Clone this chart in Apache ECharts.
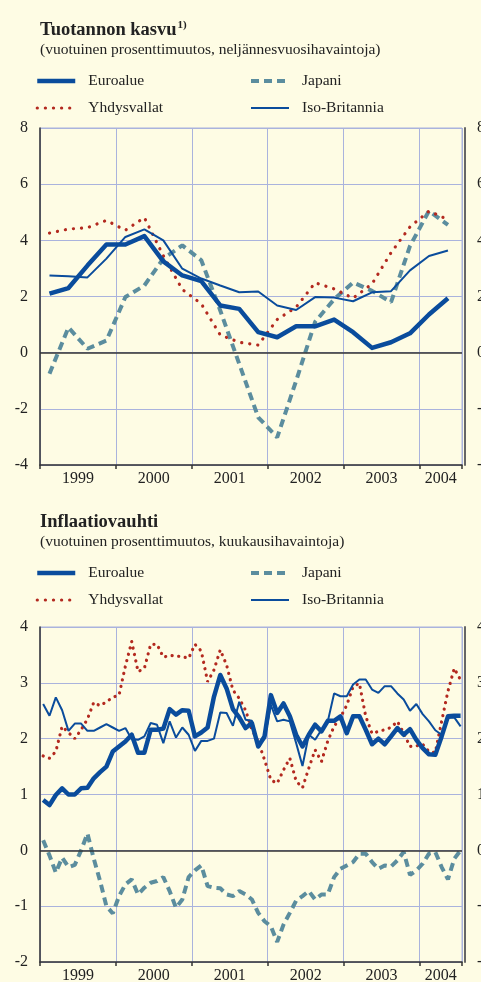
<!DOCTYPE html>
<html><head><meta charset="utf-8">
<script src="https://cdn.jsdelivr.net/npm/echarts@6/dist/echarts.min.js"></script>
<style>html,body{margin:0;padding:0;background:#fefce4}#c{width:481px;height:982px}</style>
</head><body><div id="c"></div>
<script>
// ---- Tuotannon kasvu (quarterly) ----
const quarters = ['1999Q1','1999Q2','1999Q3','1999Q4','2000Q1','2000Q2','2000Q3','2000Q4',
  '2001Q1','2001Q2','2001Q3','2001Q4','2002Q1','2002Q2','2002Q3','2002Q4',
  '2003Q1','2003Q2','2003Q3','2003Q4','2004Q1','2004Q2'];
const gdpEuro  = [2.1, 2.3, 3.1, 3.85, 3.85, 4.15, 3.25, 2.75, 2.55, 1.68, 1.56, 0.73, 0.55, 0.94, 0.94, 1.18, 0.73, 0.17, 0.37, 0.69, 1.36, 1.94];
const gdpUS    = [4.26, 4.4, 4.45, 4.71, 4.36, 4.81, 3.45, 2.25, 1.74, 0.63, 0.37, 0.27, 1.18, 1.62, 2.49, 2.27, 1.94, 2.45, 3.56, 4.48, 5.04, 4.74];
const gdpJapan = [-0.75, 0.9, 0.14, 0.43, 1.98, 2.39, 3.35, 3.82, 3.29, 1.5, -0.4, -2.3, -3.02, -1.0, 1.1, 1.9, 2.5, 2.2, 1.8, 3.8, 5.05, 4.55];
const gdpUK    = [2.75, 2.72, 2.68, 3.35, 4.12, 4.39, 4.0, 2.99, 2.64, 2.39, 2.15, 2.18, 1.68, 1.52, 1.98, 1.96, 1.83, 2.15, 2.19, 2.93, 3.44, 3.64];

// ---- Inflaatiovauhti (monthly, 1999-01 .. 2004-07) ----
const months = [];
for (let y = 1999; y <= 2004; y++) for (let m = 1; m <= 12; m++) { if (y === 2004 && m > 7) break; months.push(y + '-' + (m < 10 ? '0' + m : m)); }
const infEuro = [0.90,0.81,0.99,1.11,1.00,1.00,1.11,1.12,1.29,1.40,1.50,1.77,
  1.86,1.95,2.07,1.75,1.75,2.16,2.16,2.18,2.53,2.43,2.51,2.50,
  2.04,2.11,2.20,2.75,3.14,2.90,2.53,2.38,2.19,2.28,1.86,2.04,
  2.78,2.46,2.63,2.40,2.07,1.86,2.07,2.25,2.13,2.32,2.32,2.40,
  2.10,2.40,2.40,2.16,1.90,2.00,1.90,2.04,2.19,2.07,2.17,1.98,
  1.83,1.72,1.71,2.04,2.40,2.41,2.41];
const infUS = [1.69,1.65,1.77,2.22,2.11,2.00,2.16,2.35,2.65,2.59,2.66,2.74,
  2.78,3.30,3.74,3.20,3.26,3.69,3.69,3.46,3.49,3.48,3.47,3.44,
  3.69,3.57,3.02,3.23,3.59,3.32,2.87,2.72,2.51,2.16,1.95,1.62,
  1.26,1.20,1.44,1.65,1.24,1.12,1.47,1.80,1.59,1.96,2.22,2.38,
  2.60,2.93,2.99,2.40,2.09,2.13,2.16,2.20,2.31,2.10,1.86,1.87,
  1.90,1.77,1.75,2.31,2.85,3.26,3.05];
const infJapan = [0.18,-0.09,-0.40,-0.13,-0.30,-0.26,0.00,0.30,-0.15,-0.55,-1.00,-1.13,
  -0.82,-0.61,-0.52,-0.79,-0.67,-0.58,-0.55,-0.48,-0.73,-1.03,-0.88,-0.48,
  -0.36,-0.27,-0.64,-0.67,-0.68,-0.79,-0.82,-0.73,-0.79,-0.88,-1.12,-1.27,
  -1.36,-1.64,-1.33,-1.12,-0.90,-0.82,-0.73,-0.88,-0.79,-0.79,-0.48,-0.33,
  -0.27,-0.21,-0.06,-0.06,-0.21,-0.33,-0.27,-0.29,-0.18,-0.03,-0.44,-0.36,
  -0.24,-0.06,-0.03,-0.30,-0.52,-0.15,0.00];
const infUK = [2.62,2.41,2.74,2.51,2.14,2.27,2.27,2.14,2.14,2.20,2.26,2.20,
  2.14,2.19,1.99,1.98,2.04,2.28,2.25,1.92,2.31,2.02,2.20,2.07,
  1.78,1.96,1.96,2.00,2.47,2.46,2.23,2.66,2.34,2.32,1.89,2.00,
  2.60,2.31,2.34,2.31,1.92,1.51,2.07,1.98,2.16,2.31,2.81,2.76,
  2.76,2.97,3.06,3.06,2.88,2.82,2.94,2.94,2.81,2.70,2.50,2.62,
  2.44,2.31,2.15,2.07,2.37,2.38,2.22];

const years = [1999, 2000, 2001, 2002, 2003, 2004];
const names = { euro: 'Euroalue', us: 'Yhdysvallat', jp: 'Japani', uk: 'Iso-Britannia' };

// ---- helpers ----
const FONT = '"Liberation Serif", "DejaVu Serif", serif';
const X_MIN = 1999, X_MAX = 2004.56;
const qx = q => +q.slice(0, 4) + ((+q.slice(5) - 1) * 3 + 1.5) / 12;
const mx = s => +s.slice(0, 4) + (+s.slice(5) - 1 + 0.5) / 12;
const labelPos = years.map(y => (y + Math.min(y + 1, X_MAX)) / 2);
const BLUE = '#0a4c9c', RED = '#b3291f', TEAL = '#5b8d9e', GRIDC = '#aab3dd';

function xAxisCfg(g) {
  return { type: 'value', gridIndex: g, min: X_MIN, max: X_MAX, interval: 1,
    axisLine: { show: true, onZero: false, lineStyle: { color: '#333', width: 1.5 } },
    axisTick: { show: true, inside: false, length: 4, lineStyle: { color: '#333', width: 1.5 } },
    axisLabel: { customValues: labelPos, formatter: v => String(Math.floor(v)), margin: 6,
      fontFamily: FONT, fontSize: 16, color: '#222' },
    splitLine: { show: true, lineStyle: { color: GRIDC, width: 1 } } };
}
function yAxisCfg(g, min, max, interval, right) {
  return { type: 'value', gridIndex: g, min, max, interval, position: right ? 'right' : 'left',
    offset: right ? 3 : 0,
    axisLine: { show: true, lineStyle: { color: right ? '#666' : '#333', width: right ? 2 : 1.5 } },
    axisTick: { show: false },
    axisLabel: { margin: right ? 12 : 12, fontFamily: FONT, fontSize: 16, color: '#222' },
    splitLine: { show: !right, lineStyle: { color: GRIDC, width: 1 } } };
}
const zeroLine = { silent: true, symbol: 'none', label: { show: false },
  lineStyle: { color: '#333', width: 1.5, type: 'solid' }, data: [{ yAxis: 0 }] };

function mkSeries(g, xs, vals, kind, dotGap) {
  const base = { type: 'line', xAxisIndex: g, yAxisIndex: g * 2, symbol: 'none', showSymbol: false,
    animation: false, data: xs.map((x, i) => [x, vals[i]]) };
  if (kind === 'jp') return Object.assign(base, { name: names.jp, z: 2,
    lineStyle: { color: TEAL, width: 4, type: [8, 5] }, itemStyle: { color: TEAL }, markLine: zeroLine });
  if (kind === 'us') return Object.assign(base, { name: names.us, z: 3,
    lineStyle: { color: RED, width: 3.2, type: [0.1, dotGap], cap: 'round' }, itemStyle: { color: RED } });
  if (kind === 'uk') return Object.assign(base, { name: names.uk, z: 4,
    lineStyle: { color: BLUE, width: 2 }, itemStyle: { color: BLUE } });
  return Object.assign(base, { name: names.euro, z: 5,
    lineStyle: { color: BLUE, width: 4.5, join: 'round' }, itemStyle: { color: BLUE } });
}

const qX = quarters.map(qx), mX = months.map(mx);
const legendWidths = { [names.euro]: 4.5, [names.us]: 3.2, [names.jp]: 4, [names.uk]: 2 };
const legendBase = (left, top, data) => ({
  data: data.map(n => ({ name: n, lineStyle: { width: legendWidths[n] }, itemStyle: { opacity: 0 } })),
  orient: 'vertical', left, top, padding: 0, itemGap: 11,
  itemWidth: 38, itemHeight: 14, selectedMode: false,
  textStyle: { fontFamily: FONT, fontSize: 15.5, color: '#222', padding: [0, 0, 0, 8] } });
const titleTxt = (text, top, bold, size) => ({ text, left: 35, top,
  textStyle: { fontFamily: FONT, fontSize: size, fontWeight: bold ? 'bold' : 'normal', color: '#222',
    rich: { s: { fontFamily: FONT, fontSize: 11, fontWeight: 'bold', color: '#222', verticalAlign: 'top', padding: [0, 0, 9, 1] } } } });

const chart = echarts.init(document.getElementById('c'), null, { renderer: 'canvas' });
chart.setOption({
  backgroundColor: '#fefce4',
  animation: false,
  title: [
    titleTxt('Tuotannon kasvu{s|1)}', 15, true, 18.5),
    titleTxt('(vuotuinen prosenttimuutos, neljännesvuosihavaintoja)', 37, false, 15.5),
    titleTxt('Inflaatiovauhti', 508, true, 18.5),
    titleTxt('(vuotuinen prosenttimuutos, kuukausihavaintoja)', 529, false, 15.5)
  ],
  legend: [
    legendBase(35, 73, [names.euro, names.us]),
    legendBase(249, 73, [names.jp, names.uk]),
    legendBase(35, 565, [names.euro, names.us]),
    legendBase(249, 565, [names.jp, names.uk])
  ],
  grid: [
    { left: 40, right: 19, top: 128, height: 337, show: true, borderColor: GRIDC, borderWidth: 1,
      backgroundColor: 'transparent', outerBoundsMode: 'none' },
    { left: 40, right: 19, top: 627, height: 335, show: true, borderColor: GRIDC, borderWidth: 1,
      backgroundColor: 'transparent', outerBoundsMode: 'none' }
  ],
  xAxis: [xAxisCfg(0), xAxisCfg(1)],
  yAxis: [yAxisCfg(0, -4, 8, 2, false), yAxisCfg(0, -4, 8, 2, true),
          yAxisCfg(1, -2, 4, 1, false), yAxisCfg(1, -2, 4, 1, true)],
  series: [
    mkSeries(0, qX, gdpJapan, 'jp'),
    mkSeries(0, qX, gdpUS, 'us', 8),
    mkSeries(0, qX, gdpUK, 'uk'),
    mkSeries(0, qX, gdpEuro, 'euro'),
    mkSeries(1, mX, infJapan, 'jp'),
    mkSeries(1, mX, infUS, 'us', 6.5),
    mkSeries(1, mX, infUK, 'uk'),
    mkSeries(1, mX, infEuro, 'euro')
  ]
});
</script></body></html>
